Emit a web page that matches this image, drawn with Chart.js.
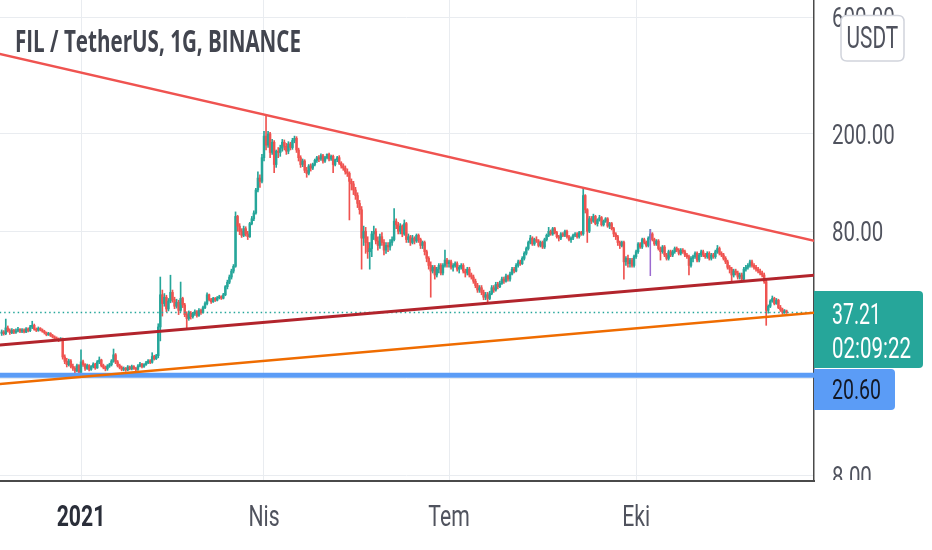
<!DOCTYPE html>
<html>
<head>
<meta charset="utf-8">
<script src="https://cdn.jsdelivr.net/npm/chart.js@4.4.1/dist/chart.umd.min.js"></script>
<style>
html, body { margin: 0; padding: 0; background: #fff; }
#wrap { width: 932px; height: 550px; position: relative; }
</style>
</head>
<body>
<div id="wrap"><canvas id="chart"></canvas></div>
<script>
// FIL / USDT daily candles. day 0 = 1 Jan 2021, first candle is 23 Nov 2020
// open of each candle = close of the candle before (24h market)
var firstDay = -39;
var firstOpen = 30.6;

var closes = [
  31.0, 30.5, 32.2, 31.4, 30.8, 31.5, 30.9, 31.3, 31.8, 31.2,
  31.6, 31.0, 31.9, 31.4, 32.5, 33.0, 31.8, 31.5, 32.1, 31.6,
  31.2, 30.8, 30.2, 30.6, 30.0, 29.6, 29.2, 29.0, 28.7, 29.0,
  24.5, 23.5, 22.8, 23.6, 22.4, 22.0, 21.5, 22.6, 21.2, 23.4,
  22.8, 22.0, 22.6, 21.8, 22.4, 22.9, 22.1, 23.4, 23.8, 22.6,
  22.2, 21.9, 22.5, 22.8, 23.6, 25.0, 23.4, 22.6, 22.2, 21.8,
  22.0, 21.7, 22.3, 21.9, 22.4, 22.0, 21.8, 22.5, 22.9, 22.4,
  22.8, 23.2, 23.6, 23.3, 24.6, 24.1, 24.8, 32.5, 44.0, 40.5,
  43.0, 38.5, 41.5, 45.0, 42.0, 39.5, 41.0, 38.0, 42.5, 40.0,
  36.5, 35.2, 37.0, 35.8, 36.8, 37.5, 36.2, 38.0, 37.2, 39.0,
  40.5, 44.0, 42.0, 41.2, 42.5, 41.8, 42.8, 43.2, 42.6, 44.0,
  47.5, 49.5, 52.0, 55.0, 57.5, 92.0, 84.0, 80.0, 77.0, 82.0,
  78, 76, 86, 90, 95, 118, 132, 128, 160, 196,
  180, 200, 168, 185, 150, 170, 168, 175, 185, 178,
  170, 182, 176, 188, 192, 172, 160, 150, 155, 142,
  138, 148, 145, 150, 156, 160, 158, 163, 155, 160,
  165, 158, 162, 150, 157, 160, 152, 148, 145, 140,
  138, 128, 125, 118, 112, 104, 98, 75, 80, 72,
  66, 68, 78, 80, 73, 70, 76, 72, 67, 70,
  69, 72, 74, 88, 85, 80, 84, 78, 86, 74,
  76, 72, 75, 73, 77, 74, 70, 72, 66, 62,
  58, 55, 57, 53, 56, 58, 54, 58, 61, 59,
  60, 57, 58, 59, 56, 57, 58, 55, 54, 56,
  53, 52, 50, 48, 46, 47, 45, 43, 44, 42.5,
  44.5, 47, 46, 48.5, 47.5, 49, 51, 50, 52.5, 51,
  53.5, 56, 55, 58, 60, 59, 62, 65, 68, 72,
  75, 71, 74, 73, 70, 72, 69, 74, 77, 80,
  78, 82, 79, 76, 75, 78, 77, 80, 76, 74,
  75, 77, 78, 76, 79, 78, 112, 98, 80, 90,
  88, 92, 86, 89, 91, 85, 88, 90, 84, 86,
  82, 78, 76, 72, 70, 72, 60, 62, 59, 61,
  58, 63, 66, 71, 69, 74, 72, 70, 75, 78,
  74, 71, 73, 68, 66, 69, 64, 62, 66, 64,
  66, 68, 67, 65, 67, 66, 64, 63, 58, 62,
  63, 65, 61, 64, 66, 64, 63, 65, 62, 64,
  63, 66, 68, 65, 64, 62, 60, 57, 56, 53,
  55, 54, 52, 53, 51, 56, 57, 58, 60, 58,
  57, 56, 55, 54, 53, 49.8, 38, 39.5, 41.5, 42.5,
  40.5, 41.8, 39.0, 38.2, 37.3, 37.8, 37.21
];

var highs = [
  31.6, 31.4, 35.0, 32.8, 31.9, 32.0, 31.8, 31.9, 32.4, 32.0,
  32.0, 31.9, 32.3, 32.2, 33.0, 34.3, 33.4, 32.2, 32.5, 32.3,
  31.9, 31.5, 31.0, 30.9, 30.8, 30.3, 29.9, 29.6, 29.3, 29.4,
  29.3, 25.0, 24.2, 24.0, 23.9, 22.9, 22.4, 22.9, 22.8, 26.2,
  23.8, 23.0, 22.9, 22.8, 22.6, 23.2, 23.1, 23.7, 24.5, 24.0,
  22.9, 22.5, 22.8, 23.1, 23.9, 26.4, 25.3, 23.7, 22.9, 22.5,
  22.3, 22.2, 22.6, 22.5, 22.7, 22.6, 22.2, 22.8, 23.3, 23.1,
  23.0, 23.5, 23.9, 23.9, 25.5, 24.9, 25.1, 33.5, 52.0, 46.0,
  44.5, 43.8, 42.5, 52.9, 46.0, 43.0, 42.2, 41.8, 49.6, 43.0,
  40.6, 37.5, 37.8, 37.6, 37.3, 38.2, 37.9, 38.6, 38.5, 39.6,
  41.2, 44.8, 44.3, 42.6, 43.0, 42.9, 43.3, 43.8, 43.6, 44.6,
  48.0, 50.5, 53.0, 56.0, 58.5, 96.0, 93.0, 86.0, 82.0, 84.0,
  83.5, 80, 87, 92, 97, 120, 140, 136, 165, 205,
  238, 205, 203, 190, 188, 172, 176, 180, 190, 189,
  183, 186, 185, 192, 196, 195, 175, 163, 158, 157,
  146, 150, 151, 152, 158, 162, 163, 166, 165, 162,
  166, 167, 164, 164, 158, 162, 163, 154, 151, 148,
  144, 140, 131, 128, 121, 115, 107, 101, 84, 83,
  76, 72, 80, 84, 82, 76, 78, 79, 74, 72,
  72, 74, 76, 99, 90, 87, 86, 85, 89, 87,
  78, 77, 77, 76, 78, 78, 75, 73, 73, 67,
  63, 60, 58, 58, 57, 59, 59, 59, 67, 62,
  61, 61, 59, 60, 60, 58, 59, 59, 56, 57,
  57, 54, 53, 51, 49, 48, 48, 46, 45, 45,
  45.5, 48, 48, 49.5, 49.5, 50, 52, 52, 53.5, 53,
  54.5, 57, 57, 59, 61, 61, 63, 66, 69, 73,
  77, 76, 75, 76, 74, 73, 73, 75, 78, 83,
  81, 83, 83, 80, 77, 79, 79, 81, 81, 77,
  76, 78, 79, 79, 80, 80, 121, 113, 99, 92,
  92, 94, 93, 90, 93, 92, 89, 91, 91, 87,
  87, 83, 79, 77, 73, 73, 73, 63, 64, 62,
  62, 64, 67, 72, 72, 75, 75, 73, 76, 81.5,
  79, 75, 74, 74, 69, 70, 70, 65, 67, 67,
  67, 69, 69, 68, 68, 68, 67, 65, 64, 63,
  64, 66, 66, 65, 67, 67, 65, 66, 66, 65,
  65, 67, 70, 69, 66, 65, 63, 61, 58, 57,
  56, 56, 55, 54, 54, 57, 58, 59, 61, 61,
  59, 58, 57, 56, 55, 54, 50.5, 40, 42, 43.5,
  43.0, 42.5, 42.2, 39.8, 38.8, 38.3, 38.1
];

var lows = [
  30.0, 30.1, 30.2, 31.0, 30.3, 30.5, 30.5, 30.6, 31.0, 30.8,
  30.8, 30.7, 30.8, 31.0, 31.1, 32.0, 31.5, 31.1, 31.2, 31.3,
  30.9, 30.4, 29.9, 30.0, 29.7, 29.3, 28.9, 28.7, 28.3, 28.5,
  24.0, 23.0, 22.3, 22.5, 22.1, 21.6, 21.0, 21.3, 20.3, 21.0,
  22.4, 21.6, 21.8, 21.5, 21.6, 22.1, 21.8, 22.0, 23.0, 22.3,
  21.9, 21.5, 21.6, 22.2, 22.5, 23.3, 23.0, 22.3, 21.9, 21.5,
  21.5, 21.4, 21.5, 21.7, 21.7, 21.8, 21.5, 21.6, 22.3, 22.1,
  22.2, 22.6, 23.0, 23.0, 23.1, 23.8, 23.9, 24.3, 28.5, 36.0,
  39.5, 37.5, 37.8, 40.8, 41.0, 38.6, 38.8, 36.5, 37.6, 39.0,
  35.8, 31.7, 34.6, 35.0, 35.3, 36.2, 35.6, 35.9, 36.6, 37.0,
  38.6, 40.0, 41.5, 40.6, 40.9, 41.3, 41.5, 42.3, 42.1, 42.3,
  43.6, 46.5, 48.8, 51.0, 54.0, 57.0, 80.0, 77.5, 75.5, 76.0,
  76.5, 74, 75.5, 85, 88.5, 94, 116, 121, 126, 155,
  172, 176, 160, 165, 139, 146, 160, 162, 170, 172,
  165, 166, 172, 173, 184, 168, 155, 146, 147, 139,
  133, 136, 141, 143, 148, 153, 154, 156, 152, 153,
  158, 155, 156, 139, 148, 154, 150, 145, 142, 137,
  134, 89, 118, 113, 108, 100, 94, 56, 70, 65,
  62, 56, 63, 74, 71, 67, 68, 70, 64, 65,
  66, 67, 70, 73, 82, 78, 78, 76, 77, 72,
  72, 70, 71, 71, 72, 72, 68, 68, 64, 60,
  56, 43, 54, 51, 52, 54, 53, 53, 57, 57,
  57, 56, 55, 57, 55, 54, 56, 54, 52, 53,
  52, 51, 49, 47, 45, 45, 44, 42, 42, 40.5,
  42, 44, 45, 45.5, 46.5, 47, 48.5, 49, 49.5, 50,
  50, 53, 54, 54.5, 57, 58, 58.5, 61, 64, 67,
  71, 70, 70, 72, 69, 69, 68, 68, 73, 76,
  77, 77, 78, 75, 73, 74, 76, 76, 75, 73,
  72, 74, 76, 75, 75, 77, 77, 95, 72, 79,
  86, 87, 85, 84, 88, 84, 84, 87, 83, 82,
  81, 76, 74, 70, 68, 69, 51, 58, 57, 57,
  57, 57, 62, 65, 68, 68, 71, 69, 69, 74,
  73, 70, 70, 67, 61, 65, 63, 61, 61, 63,
  63, 65, 66, 64, 64, 65, 63, 62, 53, 57,
  60, 62, 60, 60, 63, 63, 62, 62, 61, 61,
  62, 62, 65, 64, 63, 61, 59, 56, 54, 49.5,
  52, 53, 51, 51, 50, 50.5, 55, 56, 57, 57,
  56, 55, 54, 53, 52, 49, 33, 37, 39, 41,
  40.0, 40.2, 38.6, 37.6, 36.6, 36.9, 36.9
];

// axis ticks
var xTickDays = [0, 90, 181, 273];
var xTickLabels = ['2021', 'Nis', 'Tem', 'Eki'];
var yTicks = [8, 20, 80, 200, 600];

// price marks and drawn lines: [day, price]
var lastPrice = 37.21;
var countdown = '02:09:22';
var supportPrice = 20.60;
var upperLine = [[-40, 425], [361, 73]];
var midLine = [[-40, 27.4], [361, 52.9]];
var lowerLine = [[-40, 19.0], [361, 37.2]];
var markLine = [[280, 81.5], [280, 52.5]];

var UP = '#26a69a';
var DOWN = '#ef5350';

var wicks = [], bodies = [], colors = [];
for (var i = 0; i < closes.length; i++) {
  var open = i === 0 ? firstOpen : closes[i - 1];
  var d = firstDay + i;
  wicks.push({x: d, y: [lows[i], highs[i]]});
  bodies.push({x: d, y: [open, closes[i]]});
  colors.push(closes[i] >= open ? UP : DOWN);
}

function pts(arr) {
  return arr.map(function (p) { return {x: p[0], y: p[1]}; });
}

function lineSet(arr, color, width, dash) {
  return {
    type: 'line',
    data: pts(arr),
    borderColor: color,
    borderWidth: width,
    borderDash: dash || [],
    pointRadius: 0,
    fill: false,
    tension: 0,
    order: 0
  };
}

// text squeezed sideways like the source picture
function squeeze(c, text, x, y, sx, align) {
  var w = c.measureText(text).width * sx;
  var left = align === 'center' ? x - w / 2 : x;
  c.save();
  c.translate(left, y);
  c.scale(sx, 1);
  c.fillText(text, 0, 0);
  c.restore();
}

function fitText(c, text, x, y, width) {
  squeeze(c, text, x, y, width / c.measureText(text).width, 'left');
}

function roundBox(c, x, y, w, h, r) {
  // r = [tl, tr, br, bl]
  c.beginPath();
  c.moveTo(x + r[0], y);
  c.lineTo(x + w - r[1], y);
  c.quadraticCurveTo(x + w, y, x + w, y + r[1]);
  c.lineTo(x + w, y + h - r[2]);
  c.quadraticCurveTo(x + w, y + h, x + w - r[2], y + h);
  c.lineTo(x + r[3], y + h);
  c.quadraticCurveTo(x, y + h, x, y + h - r[3]);
  c.lineTo(x, y + r[0]);
  c.quadraticCurveTo(x, y, x + r[0], y);
  c.closePath();
}

var tvText = {
  id: 'tvText',
  afterDraw: function (chart) {
    var c = chart.ctx;
    var xs = chart.scales.x, ys = chart.scales.y, a = chart.chartArea;
    c.save();
    c.textBaseline = 'alphabetic';

    // price axis labels
    c.save();
    c.beginPath();
    c.rect(a.right + 1, 0, chart.width - a.right, a.bottom - 1);
    c.clip();
    c.font = '28px Roboto';
    c.fillStyle = '#50535e';
    yTicks.forEach(function (v) {
      squeeze(c, v.toFixed(2), a.right + 18, ys.getPixelForValue(v) + 10, 0.73, 'left');
    });
    c.restore();

    // time axis labels
    xTickDays.forEach(function (d, k) {
      c.font = (k === 0 ? 'bold ' : '') + '29px Roboto';
      c.fillStyle = k === 0 ? '#2a2e39' : '#50535e';
      squeeze(c, xTickLabels[k], xs.getPixelForValue(d), a.bottom + 45, 0.73, 'center');
    });

    // title
    c.font = 'bold 31px "Open Sans"';
    c.fillStyle = '#42454f';
    fitText(c, 'FIL / TetherUS, 1G, BINANCE', 15, 51.5, 286);

    // currency box
    roundBox(c, 841, 15.5, 63, 45.5, [6, 6, 6, 6]);
    c.fillStyle = '#ffffff';
    c.fill();
    c.lineWidth = 1.5;
    c.strokeStyle = '#d1d4dc';
    c.stroke();
    c.font = '31px Roboto';
    c.fillStyle = '#50535e';
    fitText(c, 'USDT', 846.5, 48.3, 51.7);

    // last price box
    var py = ys.getPixelForValue(lastPrice);
    var gTop = py - 21.6, gH = 77;
    roundBox(c, a.right, gTop, 109, gH, [0, 4, 4, 0]);
    c.fillStyle = UP;
    c.fill();
    c.font = '30px Roboto';
    c.fillStyle = '#ffffff';
    fitText(c, lastPrice.toFixed(2), a.right + 18, py + 11.4, 49);
    fitText(c, countdown, a.right + 18, py + 45.5, 79);

    // support price box, pushed below the last price box
    var bTop = gTop + gH + 1;
    roundBox(c, a.right, bTop, 81, 41, [0, 4, 4, 0]);
    c.fillStyle = '#5b9cf6';
    c.fill();
    c.font = '28px Roboto';
    c.fillStyle = '#131722';
    fitText(c, supportPrice.toFixed(2), a.right + 18, bTop + 30.3, 49);

    c.restore();
  }
};

var ctx = document.getElementById('chart').getContext('2d');
var myChart = new Chart(ctx, {
  type: 'bar',
  data: {
    datasets: [
      lineSet(upperLine, '#ef5350', 2.5),
      lineSet(midLine, '#b2242c', 3),
      lineSet(lowerLine, '#ef6c00', 2.5),
      lineSet([[-40, supportPrice], [361, supportPrice]], '#5b9cf6', 5),
      lineSet([[-40, lastPrice], [361, lastPrice]], UP, 1.5, [1.5, 3]),
      lineSet(markLine, '#9c6ad0', 1.5),
      {
        data: bodies,
        backgroundColor: colors,
        borderWidth: 0,
        barThickness: 1.8,
        minBarLength: 1,
        grouped: false,
        order: 1
      },
      {
        data: wicks,
        backgroundColor: colors,
        borderWidth: 0,
        barThickness: 1,
        grouped: false,
        order: 2
      }
    ]
  },
  options: {
    responsive: true,
    maintainAspectRatio: false,
    animation: false,
    layout: { padding: 0 },
    plugins: {
      legend: { display: false },
      tooltip: { enabled: false }
    },
    scales: {
      x: {
        type: 'linear',
        min: -39.84,
        max: 360.5,
        offset: false,
        bounds: 'data',
        afterBuildTicks: function (s) {
          s.ticks = xTickDays.map(function (v) { return {value: v}; });
        },
        afterFit: function (s) { s.height = 69; },
        ticks: { display: false },
        grid: { color: '#e9ecf0', drawTicks: false, offset: false },
        border: { display: true, color: '#4a4a4a', width: 2 }
      },
      y: {
        type: 'logarithmic',
        position: 'right',
        min: 7.62,
        max: 706,
        bounds: 'data',
        afterBuildTicks: function (s) {
          s.ticks = yTicks.map(function (v) { return {value: v}; });
        },
        afterFit: function (s) { s.width = 118; },
        ticks: { display: false },
        grid: { color: '#e9ecf0', drawTicks: false },
        border: { display: true, color: '#4a4a4a', width: 1.5 }
      }
    }
  },
  plugins: [tvText]
});
</script>
</body>
</html>
